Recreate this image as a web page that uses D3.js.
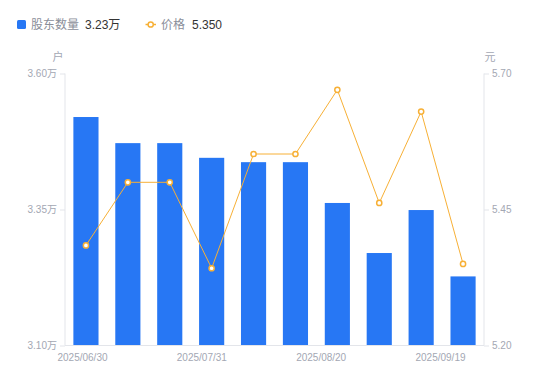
<!DOCTYPE html>
<html>
<head>
<meta charset="utf-8">
<script src="https://cdn.jsdelivr.net/npm/d3@7"></script>
<style>
  html, body { margin: 0; padding: 0; background: #fff; }
  svg { display: block; font-family: "Liberation Sans", Arial, "Noto Sans CJK SC", sans-serif; }
</style>
</head>
<body>
<svg id="chart" width="550" height="381"></svg>
<script>
// ---- data ----
const categories = ["2025/06/30","2025/07/10","2025/07/18","2025/07/31","2025/08/08","2025/08/20","2025/08/29","2025/09/05","2025/09/12","2025/09/19"];
const holders = [3.520, 3.472, 3.472, 3.445, 3.437, 3.437, 3.362, 3.270, 3.349, 3.227]; // 万户
const prices  = [5.384, 5.500, 5.500, 5.342, 5.552, 5.552, 5.670, 5.462, 5.630, 5.350]; // 元
const xTickLabels = ["2025/06/30", "2025/07/31", "2025/08/20", "2025/09/19"];
const leftTicks = [3.10, 3.35, 3.60];
const rightTicks = [5.20, 5.45, 5.70];
const legendNames = ["股东数量", "价格"];
const legendValues = ["3.23万", "5.350"];
const units = ["户", "元"];

// ---- layout ----
const svg = d3.select("#chart");
const plotL = 65, plotR = 484, plotT = 73.5, plotB = 345.5;
const barColor = "#2777f4";
const lineColor = "#f7b036";
const axisColor = "#e3e5ea";
const labelColor = "#a3a7b3";

const x = d3.scaleBand().domain(categories).range([plotL, plotR]).paddingInner(0.4).paddingOuter(0.2);
const yL = d3.scaleLinear().domain([3.10, 3.60]).range([plotB, plotT]);
const yR = d3.scaleLinear().domain([5.20, 5.70]).range([plotB, plotT]);
const xLab = d3.scalePoint().domain(xTickLabels).range([plotL + 17, plotR - 44]);

// bars
svg.append("g").selectAll("rect").data(categories).join("rect")
  .attr("x", d => x(d))
  .attr("width", x.bandwidth())
  .attr("y", (d, i) => yL(holders[i]))
  .attr("height", (d, i) => plotB - yL(holders[i]))
  .attr("fill", barColor);

// axes
const gL = svg.append("g").attr("transform", `translate(${plotL},0)`)
  .call(d3.axisLeft(yL).tickValues(leftTicks).tickSize(5).tickPadding(3).tickFormat(d => d3.format(".2f")(d) + "万"));
const gR = svg.append("g").attr("transform", `translate(${plotR},0)`)
  .call(d3.axisRight(yR).tickValues(rightTicks).tickSize(5).tickPadding(3).tickFormat(d3.format(".2f")));
const gB = svg.append("g").attr("transform", `translate(0,${plotB})`)
  .call(d3.axisBottom(xLab).tickSize(0).tickPadding(8));
gB.select(".domain").remove();
svg.append("line").attr("x1", plotL).attr("x2", plotR).attr("y1", plotB).attr("y2", plotB)
  .attr("stroke", axisColor).attr("stroke-width", 1);
[gL, gR].forEach(g => {
  g.select(".domain").attr("stroke", axisColor).attr("d", null);
  g.select(".domain").remove();
  g.selectAll(".tick line").attr("stroke", axisColor);
});
gL.append("line").attr("x1", 0).attr("x2", 0).attr("y1", plotT).attr("y2", plotB).attr("stroke", axisColor);
gR.append("line").attr("x1", 0).attr("x2", 0).attr("y1", plotT).attr("y2", plotB).attr("stroke", axisColor);
[gL, gR, gB].forEach(g => g.selectAll(".tick text")
  .attr("fill", labelColor).attr("font-size", 10)
  .attr("font-family", "'Liberation Sans', Arial, 'Noto Sans CJK SC', sans-serif"));

// units
svg.append("text").attr("x", 58).attr("y", 61).attr("text-anchor", "middle")
  .attr("font-size", 11).attr("fill", labelColor).text(units[0]);
svg.append("text").attr("x", 490).attr("y", 61).attr("text-anchor", "middle")
  .attr("font-size", 11).attr("fill", labelColor).text(units[1]);

// line
const cx = (d, i) => x(categories[i]) + x.bandwidth() / 2;
const line = d3.line().x((d, i) => cx(d, i)).y(d => yR(d));
svg.append("path").datum(prices).attr("d", line)
  .attr("fill", "none").attr("stroke", lineColor).attr("stroke-width", 1);
svg.append("g").selectAll("circle").data(prices).join("circle")
  .attr("cx", (d, i) => cx(d, i)).attr("cy", d => yR(d)).attr("r", 2.6)
  .attr("fill", "#fff").attr("stroke", lineColor).attr("stroke-width", 1.5);

// legend
const lg = svg.append("g");
lg.append("rect").attr("x", 17).attr("y", 20).attr("width", 9).attr("height", 9).attr("rx", 1.5).attr("fill", barColor);
lg.append("text").attr("x", 31).attr("y", 29).attr("font-size", 12).attr("fill", "#8a8e99").text(legendNames[0]);
lg.append("text").attr("x", 85).attr("y", 29).attr("font-size", 12).attr("fill", "#333").text(legendValues[0]);
lg.append("line").attr("x1", 145.5).attr("x2", 156).attr("y1", 24.5).attr("y2", 24.5).attr("stroke", lineColor).attr("stroke-width", 1.5);
lg.append("circle").attr("cx", 150.7).attr("cy", 24.5).attr("r", 2.6).attr("fill", "#fff").attr("stroke", lineColor).attr("stroke-width", 1.5);
lg.append("text").attr("x", 161).attr("y", 29).attr("font-size", 12).attr("fill", "#8a8e99").text(legendNames[1]);
lg.append("text").attr("x", 192).attr("y", 29).attr("font-size", 12).attr("fill", "#333").text(legendValues[1]);
</script>
</body>
</html>
